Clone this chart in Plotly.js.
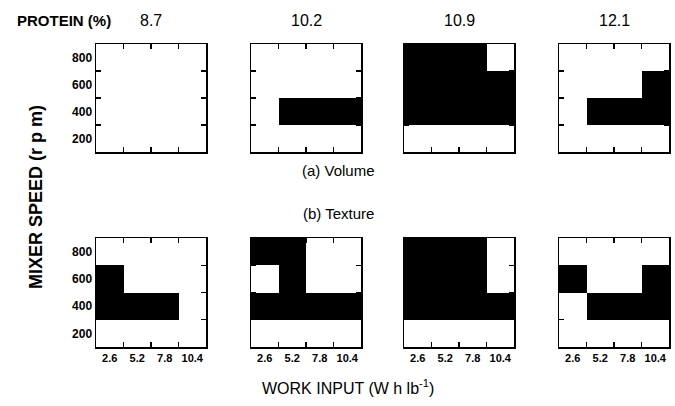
<!DOCTYPE html>
<html>
<head>
<meta charset="utf-8">
<script src="https://cdn.plot.ly/plotly-3.0.1.min.js"></script>
<style>html,body{margin:0;padding:0;background:#fff;}#chart{width:675px;height:406px;}</style>
</head>
<body>
<div id="chart"></div>
<script>
// Categories
const workInput = ['2.6', '5.2', '7.8', '10.4'];      // W h lb^-1 (cell centres)
const mixerSpeed = ['200', '400', '600', '800'];      // rpm (cell centres)
const proteinLevels = ['8.7', '10.2', '10.9', '12.1']; // %

// 1 = black (region), 0 = white; row order = mixerSpeed (200 -> 800), column order = workInput
const volume87  = [[0,0,0,0],[0,0,0,0],[0,0,0,0],[0,0,0,0]];
const volume102 = [[0,0,0,0],[0,1,1,1],[0,0,0,0],[0,0,0,0]];
const volume109 = [[0,0,0,0],[1,1,1,1],[1,1,1,1],[1,1,1,0]];
const volume121 = [[0,0,0,0],[0,1,1,1],[0,0,0,1],[0,0,0,0]];

const texture87  = [[0,0,0,0],[1,1,1,0],[1,0,0,0],[0,0,0,0]];
const texture102 = [[0,0,0,0],[1,1,1,1],[0,1,0,0],[1,1,0,0]];
const texture109 = [[0,0,0,0],[1,1,1,1],[1,1,1,0],[1,1,1,0]];
const texture121 = [[0,0,0,0],[0,1,1,1],[1,0,0,1],[0,0,0,0]];

const volumeRow = [volume87, volume102, volume109, volume121];
const textureRow = [texture87, texture102, texture109, texture121];

const W = 675, H = 406;
const colStartPx = [96, 251, 404, 559];
const panelWPx = 110;
const topRowPx = [44, 152];
const botRowPx = [238, 347];
const FONT = 'Liberation Sans, Arial, Helvetica, sans-serif';

const data = [];
const layout = {
  width: W, height: H,
  margin: {l: 0, r: 0, t: 0, b: 0},
  paper_bgcolor: '#fff', plot_bgcolor: '#fff',
  showlegend: false,
  font: {family: FONT, color: '#000'},
  annotations: []
};

function axisBase() {
  return {
    type: 'category',
    showgrid: false, zeroline: false,
    showline: true, linecolor: '#000', linewidth: 1.5,
    mirror: 'ticks', ticks: 'inside', ticklen: 5, tickwidth: 1.3, tickcolor: '#000',
    tickson: 'boundaries',
    fixedrange: true,
    range: [-0.5, 3.5],
    tickangle: 0,
    automargin: false,
    tickfont: {family: FONT, size: 12, color: '#000', weight: 'bold'}
  };
}

let n = 0;
[volumeRow, textureRow].forEach((row, r) => {
  const ypx = r === 0 ? topRowPx : botRowPx;
  row.forEach((z, c) => {
    n += 1;
    const xa = n === 1 ? 'x' : 'x' + n;
    const ya = n === 1 ? 'y' : 'y' + n;
    data.push({
      type: 'heatmap',
      x: workInput, y: mixerSpeed, z: z,
      xaxis: xa, yaxis: ya,
      zmin: 0, zmax: 1,
      colorscale: [[0, '#ffffff'], [1, '#000000']],
      showscale: false, hoverinfo: 'skip'
    });
    const xk = n === 1 ? 'xaxis' : 'xaxis' + n;
    const yk = n === 1 ? 'yaxis' : 'yaxis' + n;
    const xax = axisBase();
    xax.domain = [colStartPx[c] / W, (colStartPx[c] + panelWPx) / W];
    xax.anchor = ya;
    xax.showticklabels = (r === 1);
    xax.tickfont = {family: FONT, size: 11, color: '#000', weight: 'bold'};
    const yax = axisBase();
    yax.domain = [1 - ypx[1] / H, 1 - ypx[0] / H];
    yax.anchor = xa;
    yax.showticklabels = (c === 0);
    layout[xk] = xax;
    layout[yk] = yax;
  });
});

// Protein header
layout.annotations.push({
  xref: 'paper', yref: 'paper', x: 15 / W, y: 1 - 21 / H, xanchor: 'left', yanchor: 'middle',
  text: 'PROTEIN (%)', showarrow: false, font: {family: FONT, size: 15, color: '#000', weight: 'bold'}
});
proteinLevels.forEach((p, c) => {
  layout.annotations.push({
    xref: 'paper', yref: 'paper', x: (colStartPx[c] + panelWPx / 2) / W, y: 1 - 21 / H,
    xanchor: 'center', yanchor: 'middle', text: p, showarrow: false,
    font: {family: FONT, size: 16, color: '#000'}
  });
});
layout.annotations.push({
  xref: 'paper', yref: 'paper', x: 338 / W, y: 1 - 170 / H, xanchor: 'center', yanchor: 'middle',
  text: '(a) Volume', showarrow: false, font: {family: FONT, size: 15, color: '#000'}
});
layout.annotations.push({
  xref: 'paper', yref: 'paper', x: 338 / W, y: 1 - 213 / H, xanchor: 'center', yanchor: 'middle',
  text: '(b) Texture', showarrow: false, font: {family: FONT, size: 15, color: '#000'}
});
layout.annotations.push({
  xref: 'paper', yref: 'paper', x: 348 / W, y: 1 - 387 / H, xanchor: 'center', yanchor: 'middle',
  text: 'WORK INPUT (W h lb<sup>-1</sup>)', showarrow: false, font: {family: FONT, size: 16, color: '#000'}
});
layout.annotations.push({
  xref: 'paper', yref: 'paper', x: 36 / W, y: 1 - 197 / H, xanchor: 'center', yanchor: 'middle',
  text: 'MIXER SPEED (r p m)', textangle: -90, showarrow: false,
  font: {family: FONT, size: 18, color: '#000', weight: 'bold'}
});

Plotly.newPlot('chart', data, layout, {staticPlot: true, displayModeBar: false});
</script>
</body>
</html>
